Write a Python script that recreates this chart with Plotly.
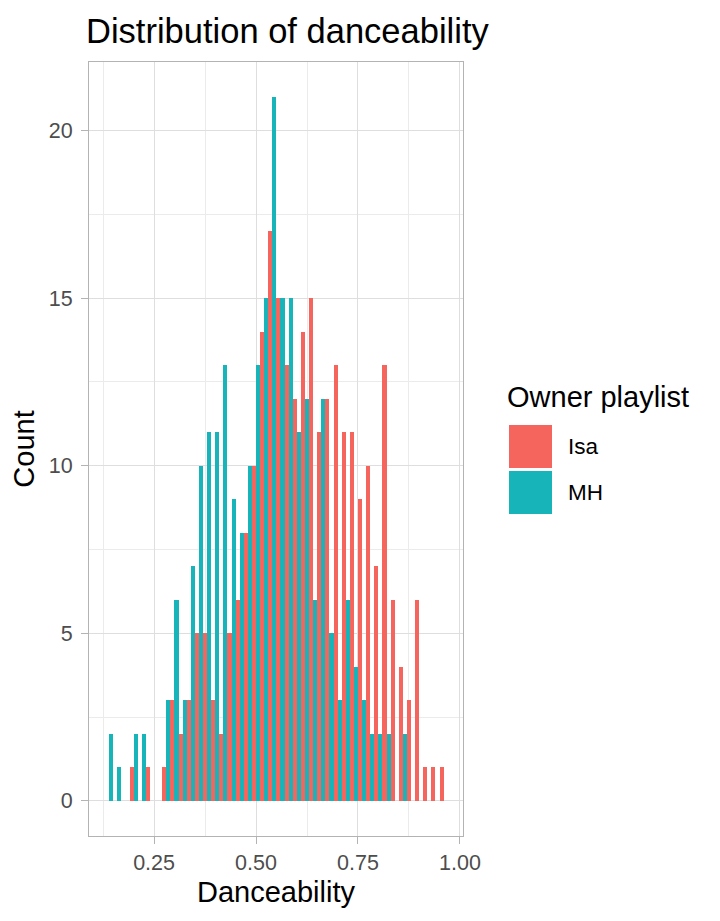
import plotly.graph_objects as go

# %% Data: histogram counts, binwidth 0.02 (bin centres)
bin_centres = [0.14, 0.16, 0.18, 0.20, 0.22, 0.24, 0.26, 0.28, 0.30, 0.32,
               0.34, 0.36, 0.38, 0.40, 0.42, 0.44, 0.46, 0.48, 0.50, 0.52,
               0.54, 0.56, 0.58, 0.60, 0.62, 0.64, 0.66, 0.68, 0.70, 0.72,
               0.74, 0.76, 0.78, 0.80, 0.82, 0.84, 0.86, 0.88, 0.90, 0.92,
               0.94, 0.96]

isa_counts = [0, 0, 0, 1, 0, 1, 0, 1, 3, 2,
              3, 5, 5, 3, 2, 5, 6, 8, 10, 14,
              17, 15, 13, 12, 14, 15, 11, 12, 13, 11,
              11, 9, 10, 7, 13, 6, 4, 3, 6, 1,
              1, 1]
mh_counts = [2, 1, 0, 2, 2, 0, 0, 3, 6, 3,
             7, 10, 11, 11, 13, 9, 8, 10, 13, 15,
             21, 15, 15, 11, 12, 6, 12, 5, 3, 6,
             4, 3, 2, 2, 2, 0, 2, 0, 0, 0,
             0, 0]
owners = ["Isa", "MH"]

x_ticks = [0.25, 0.50, 0.75, 1.00]
y_ticks = [0, 5, 10, 15, 20]

# %% Style
RED = "#F5645D"
TEAL = "#17B5B9"
FONT = "Liberation Sans, Arial, sans-serif"
GRID = "#DEDEDE"
BORDER = "#B3B3B3"

W, H = 720, 921
L, R, T, B = 89, 463, 62, 836  # panel in pixels


def px(x):
    return (x - L) / (R - L)


def py(y):
    return (B - y) / (B - T)


fig = go.Figure()
for name, counts, colour in zip(owners, [isa_counts, mh_counts], [RED, TEAL]):
    fig.add_trace(go.Bar(x=bin_centres, y=counts, name=name,
                         marker=dict(color=colour, line=dict(width=0)),
                         showlegend=False))

axis_common = dict(
    showline=True, mirror=True, linecolor=BORDER, linewidth=1.2,
    ticks="outside", ticklen=7, tickcolor=BORDER, tickwidth=1.2,
    showgrid=True, gridcolor=GRID, gridwidth=1.2, zeroline=False,
    tickfont=dict(family=FONT, size=21.5, color="#4D4D4D"),
    title_font=dict(family=FONT, size=29, color="black"),
)

fig.update_xaxes(
    range=[0.0905, 1.0075], tickvals=x_ticks, tickformat=".2f",
    minor=dict(dtick=0.125, tick0=0, showgrid=True, gridcolor="#EBEBEB", gridwidth=0.6, ticks=""),
    title_text="Danceability", title_standoff=7, **axis_common,
)
fig.update_yaxes(
    range=[-1.05, 22.05], tickvals=y_ticks,
    minor=dict(dtick=2.5, tick0=0, showgrid=True, gridcolor="#EBEBEB", gridwidth=0.6, ticks=""),
    title_text="Count", title_standoff=5, ticklabelstandoff=4, **axis_common,
)

# %% Hand-drawn legend (ggplot-sized keys)
legend_keys = [(RED, 425, 468), (TEAL, 471, 514)]
for (colour, y0, y1), name in zip(legend_keys, owners):
    fig.add_shape(type="rect", xref="paper", yref="paper",
                  x0=px(509), x1=px(552), y0=py(y1), y1=py(y0),
                  fillcolor=colour, line=dict(width=0))
    fig.add_annotation(xref="paper", yref="paper", x=px(566), y=py((y0 + y1) / 2),
                       text=name, showarrow=False, xanchor="left", yanchor="middle",
                       font=dict(family=FONT, size=22.5, color="black"))
fig.add_annotation(xref="paper", yref="paper", x=px(505), y=py(397),
                   text="Owner playlist", showarrow=False, xanchor="left", yanchor="middle",
                   font=dict(family=FONT, size=29, color="black"))

fig.update_layout(
    width=W, height=H,
    margin=dict(l=L, r=W - R, t=T, b=H - B, autoexpand=False),
    barmode="group", bargap=0, bargroupgap=0,
    plot_bgcolor="white", paper_bgcolor="white",
    title=dict(text="Distribution of danceability", x=86 / W, xref="container",
               y=1 - 31 / H, yref="container", xanchor="left", yanchor="middle",
               font=dict(family=FONT, size=34.5, color="black")),
)

# the page's default 8px body margin would shift everything
fig.write_html("out.html", config={"displayModeBar": False},
               post_script="document.body.style.margin='0';")
